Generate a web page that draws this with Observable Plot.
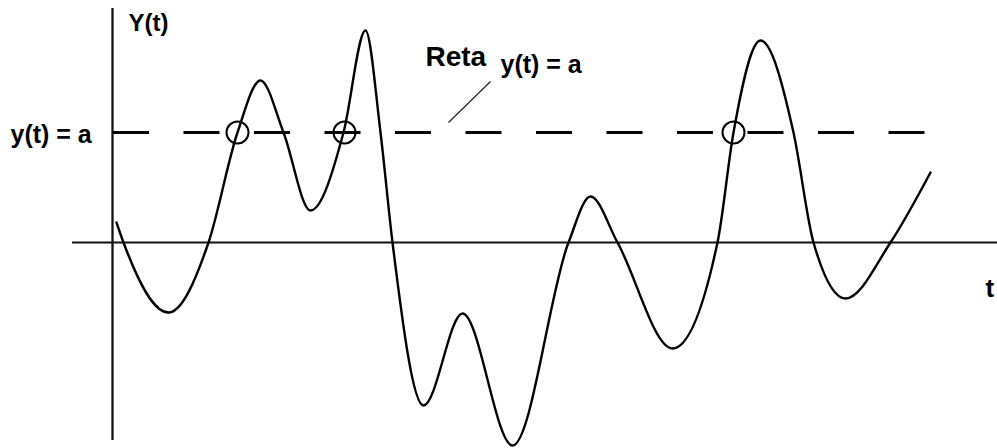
<!DOCTYPE html>
<html>
<head>
<meta charset="utf-8">
<script src="https://cdn.jsdelivr.net/npm/d3@7"></script>
<script src="https://cdn.jsdelivr.net/npm/@observablehq/plot@0.6"></script>
<style>
  html, body { margin: 0; padding: 0; background: #fff; overflow: hidden; }
  #chart svg { display: block; }
</style>
</head>
<body>
<div id="chart"></div>
<script>
// Curve Y(t): extrema and crossings (arbitrary units)
const tValues = [0.4, 1.1, 5.6, 9.6, 12.5, 14.8, 17.1, 19.8, 23.1, 25.3, 26.8, 28.0, 31.1, 35.0, 40.0, 45.6, 47.8, 50.5, 56.0, 60.5, 62.1, 64.8, 68.1, 70.1, 73.3, 77.8, 81.8];
const yValues = [2.0, 0.0, -7.0, 0.0, 11.0, 16.2, 11.0, 3.2, 11.0, 21.2, 11.0, 0.0, -16.3, -7.1, -20.3, 0.0, 4.6, 0.0, -10.6, 0.0, 11.0, 20.2, 11.0, 0.0, -5.6, 0.0, 7.0];

// Level a and the marked crossings
const levelA = 11;
const crossingT = [12.5, 23.2, 62.1];

// Texts
const yAxisLabel = "Y(t)";
const tAxisLabel = "t";
const levelLabel = "y(t) = a";
const retaLabel = "Reta";

const curve = tValues.map((t, i) => ({t, y: yValues[i]}));
const crossings = crossingT.map(t => ({t, y: levelA}));

const font = "'Liberation Sans', Arial, sans-serif";

const chart = Plot.plot({
  width: 997,
  height: 448,
  marginTop: 0, marginRight: 0, marginBottom: 0, marginLeft: 0,
  x: {domain: [-11.2, 88.5], axis: null},
  y: {domain: [-20.6, 24.2], axis: null},
  style: {background: "#fff"},
  marks: [
    // axes
    Plot.ruleX([0], {y1: 23.4, y2: -19.8, stroke: "#111", strokeWidth: 2.3}),
    Plot.ruleY([0], {x1: -4, x2: 88.5, stroke: "#111", strokeWidth: 2}),
    // dashed level line y(t) = a
    Plot.ruleY([levelA], {x1: 0.1, x2: 81.5, stroke: "#000", strokeWidth: 3, strokeDasharray: "36,34.5"}),
    // the curve
    Plot.line(curve, {x: "t", y: "y", curve: "monotone-x", stroke: "#000", strokeWidth: 2.4}),
    // crossing circles
    Plot.dot(crossings, {x: "t", y: "y", r: 11, stroke: "#000", strokeWidth: 2, fill: "none"}),
    // leader line for "Reta"
    Plot.link([{x1: 33.6, y1: 12.0, x2: 37.8, y2: 16.1}], {x1: "x1", y1: "y1", x2: "x2", y2: "y2", stroke: "#222", strokeWidth: 1.2}),
    // labels
    Plot.text([yAxisLabel], {x: 1.6, y: 21.2, text: d => d, textAnchor: "start", lineAnchor: "bottom", fontSize: 24, fontWeight: "bold", fontFamily: font, fill: "#000"}),
    Plot.text([levelLabel], {x: -10.2, y: 10.0, text: d => d, textAnchor: "start", lineAnchor: "bottom", fontSize: 25, fontWeight: "bold", fontFamily: font, fill: "#000"}),
    Plot.text([retaLabel], {x: 31.3, y: 17.7, text: d => d, textAnchor: "start", lineAnchor: "bottom", fontSize: 28, fontWeight: "bold", fontFamily: font, fill: "#000"}),
    Plot.text([levelLabel], {x: 38.8, y: 17.0, text: d => d, textAnchor: "start", lineAnchor: "bottom", fontSize: 25, fontWeight: "bold", fontFamily: font, fill: "#000"}),
    Plot.text([tAxisLabel], {x: 87.3, y: -5.4, text: d => d, textAnchor: "start", lineAnchor: "bottom", fontSize: 26, fontWeight: "bold", fontFamily: font, fill: "#000"})
  ]
});
document.getElementById("chart").appendChild(chart);
</script>
</body>
</html>
